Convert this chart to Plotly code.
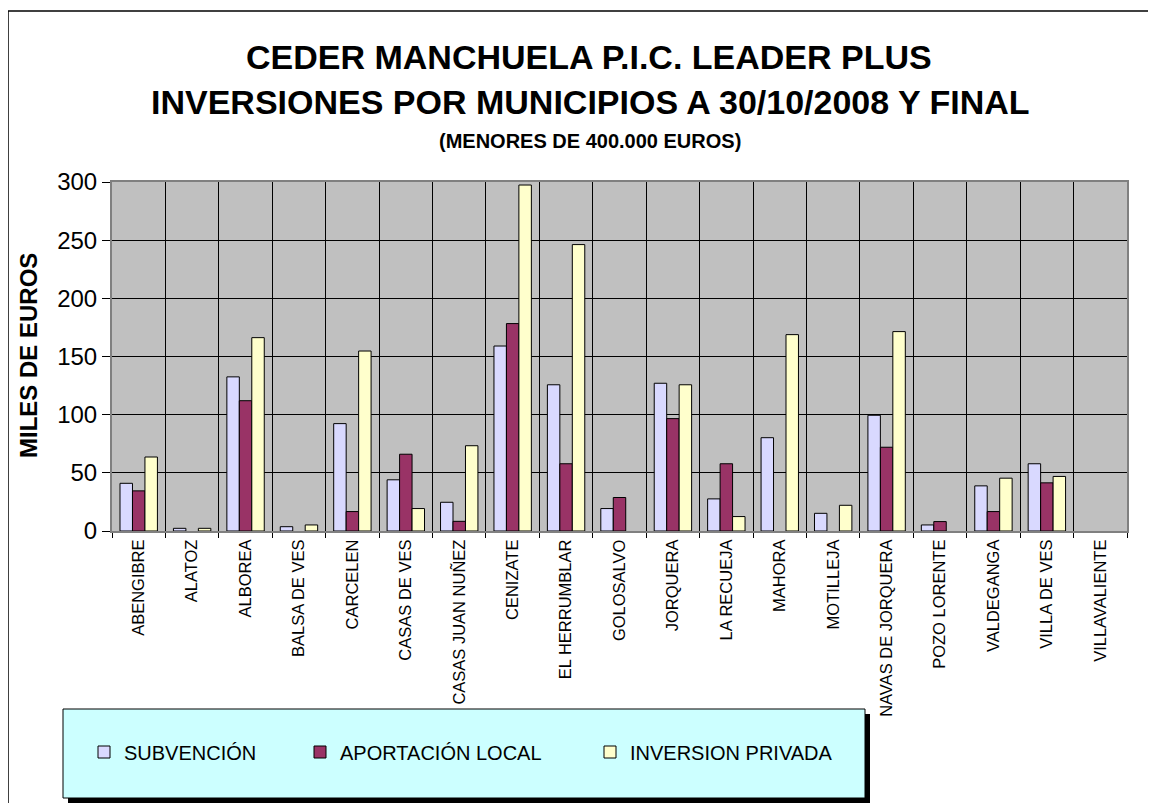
import plotly.graph_objects as go

municipios = ["ABENGIBRE", "ALATOZ", "ALBOREA", "BALSA DE VES", "CARCELEN",
              "CASAS DE VES", "CASAS JUAN NUÑEZ", "CENIZATE", "EL HERRUMBLAR",
              "GOLOSALVO", "JORQUERA", "LA RECUEJA", "MAHORA", "MOTILLEJA",
              "NAVAS DE JORQUERA", "POZO LORENTE", "VALDEGANGA", "VILLA DE VES",
              "VILLAVALIENTE"]
subvencion = [41, 2.3, 132.5, 3.7, 92.3, 44, 24.7, 159, 125.7,
              19.3, 127, 27.6, 80.2, 15.2, 99.5, 5.2, 38.8, 57.8, 0]
aportacion = [34.5, 0, 112, 0, 16.7, 66, 8.3, 178.3, 57.8,
              28.8, 96.6, 57.8, 0, 0, 72, 8.1, 16.7, 41.4, 0]
inversion = [63.6, 2.3, 166.2, 5.2, 154.7, 19.3, 73.3, 297.4, 246.2,
             0, 125.7, 12.4, 168.8, 22.1, 171.4, 0, 45.4, 46.9, 0]

FONT = "Arial, Liberation Sans, sans-serif"

# plot area on screen: x 112..1127, y 182..531 (page body adds an 8px offset)
L, R, T, B = 112, 1127, 182, 531
OFF = 8
def px(x):
    return (x - L) / (R - L)
def py(y):
    return (B - y) / (B - T)

def nz(vals):
    # empty bars for zero values, as in the original chart
    return [v if v else None for v in vals]

fig = go.Figure()
fig.add_trace(go.Bar(x=municipios, y=nz(subvencion), name="SUBVENCIÓN", showlegend=True,
                     marker=dict(color="#D9D9FF", line=dict(color="black", width=1)),
                     legend="legend"))
fig.add_trace(go.Bar(x=municipios, y=nz(aportacion), name="APORTACIÓN LOCAL", showlegend=True,
                     marker=dict(color="#993366", line=dict(color="black", width=1)),
                     legend="legend2"))
fig.add_trace(go.Bar(x=municipios, y=nz(inversion), name="INVERSION PRIVADA", showlegend=True,
                     marker=dict(color="#FFFFCC", line=dict(color="black", width=1)),
                     legend="legend3"))

leg = dict(orientation="h", yanchor="middle", xanchor="left",
           bgcolor="rgba(0,0,0,0)", font=dict(family=FONT, size=20, color="black"))
fig.update_layout(
    width=1156, height=803, autosize=False, showlegend=True,
    margin=dict(l=L - OFF, r=1156 - R + OFF, t=T - OFF, b=803 - B + OFF),
    paper_bgcolor="white", plot_bgcolor="#C0C0C0",
    barmode="group", bargap=0.3, bargroupgap=0,
    font=dict(family=FONT, color="black"),
    legend=dict(leg, x=px(84), y=py(752)),
    legend2=dict(leg, x=px(300), y=py(752)),
    legend3=dict(leg, x=px(590), y=py(752)),
)
fig.update_xaxes(tickson="boundaries", showgrid=True, gridcolor="black", gridwidth=1,
                 ticks="outside", ticklen=5, tickcolor="black", tickangle=-90,
                 tickfont=dict(family=FONT, size=16.5, color="black"),
                 showline=True, linecolor="#808080", linewidth=2, mirror=True)
fig.update_yaxes(range=[0, 300], dtick=50, showgrid=True, gridcolor="black", gridwidth=1,
                 ticks="outside", ticklen=8, tickcolor="black",
                 tickfont=dict(family=FONT, size=24, color="black"),
                 showline=True, linecolor="#808080", linewidth=2, mirror=True,
                 zeroline=False)

# titles
ann = dict(xref="paper", yref="paper", showarrow=False, xanchor="center", yanchor="middle")
fig.add_annotation(ann, text="<b>CEDER MANCHUELA P.I.C. LEADER PLUS</b>",
                   x=px(589), y=py(57), font=dict(family=FONT, size=34))
fig.add_annotation(ann, text="<b>INVERSIONES POR MUNICIPIOS A 30/10/2008 Y FINAL</b>",
                   x=px(590), y=py(102), font=dict(family=FONT, size=34))
fig.add_annotation(ann, text="<b>(MENORES DE 400.000 EUROS)</b>",
                   x=px(589.5), y=py(141), font=dict(family=FONT, size=20))
fig.add_annotation(ann, text="<b>MILES DE EUROS</b>", textangle=-90,
                   x=px(28), y=py(356), font=dict(family=FONT, size=24))

# outer chart frame (cut off at the right and bottom)
fig.add_shape(type="line", xref="paper", yref="paper", x0=px(8), x1=px(1170), y0=py(11), y1=py(11),
              line=dict(color="black", width=1.5))
fig.add_shape(type="line", xref="paper", yref="paper", x0=px(8), x1=px(8), y0=py(11), y1=py(820),
              line=dict(color="black", width=1.5))
# legend box with shadow
fig.add_shape(type="rect", xref="paper", yref="paper", x0=px(68), x1=px(870), y0=py(714), y1=py(803),
              fillcolor="black", line=dict(width=0), layer="below")
fig.add_shape(type="rect", xref="paper", yref="paper", x0=px(63), x1=px(865), y0=py(709), y1=py(798),
              fillcolor="#CCFFFF", line=dict(color="black", width=1), layer="below")

fig.write_html("out.html")
